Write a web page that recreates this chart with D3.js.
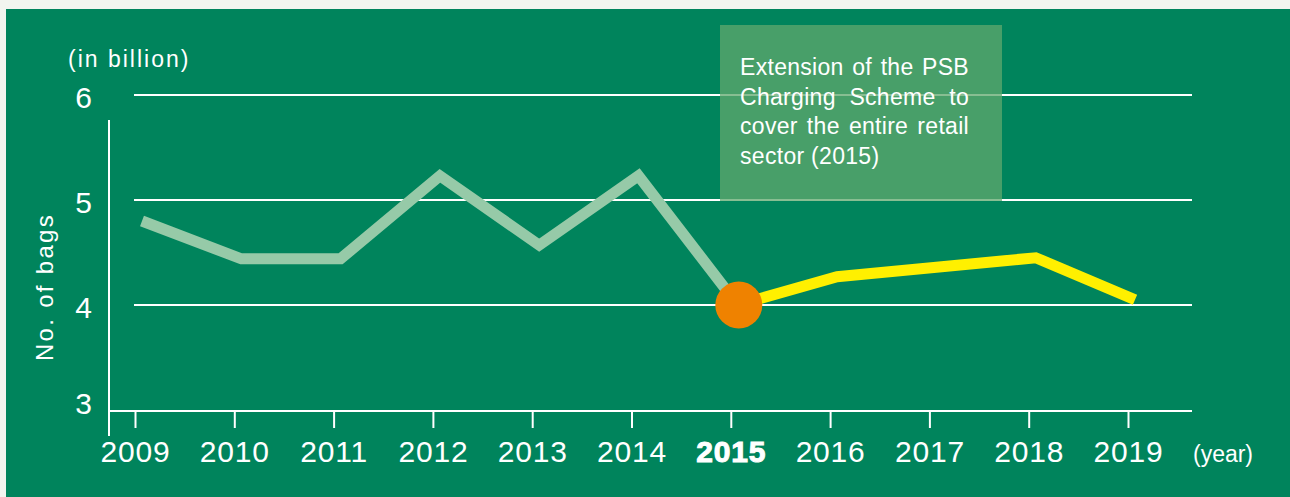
<!DOCTYPE html>
<html>
<head>
<meta charset="utf-8">
<script src="https://cdn.jsdelivr.net/npm/d3@7"></script>
<style>
  html, body { margin: 0; padding: 0; background: #f2f5ef; }
  svg { display: block; }
</style>
</head>
<body>
<svg id="chart" width="1290" height="497"></svg>
<script>
const years = [2009, 2010, 2011, 2012, 2013, 2014, 2015, 2016, 2017, 2018, 2019];
const bags = [4.8, 4.44, 4.44, 5.23, 4.57, 5.23, 4.0, 4.27, 4.36, 4.45, 4.05];
const yTicks = [3, 4, 5, 6];
const highlightYear = 2015;
const noteLines = [
  'Extension of the PSB',
  'Charging Scheme to',
  'cover the entire retail',
  'sector (2015)'
];

const BG = '#00845c';
const FONT = '"Liberation Sans", Arial, sans-serif';
const LINE_OFFSET = 7; // the line sits a little right of the ticks in the original

const svg = d3.select('#chart');

svg.append('rect')
  .attr('x', 6).attr('y', 9)
  .attr('width', 1284).attr('height', 488)
  .attr('fill', BG);

const x = d3.scalePoint()
  .domain(years)
  .range([135, 1128]);

const y = d3.scaleLinear()
  .domain([3, 6])
  .range([410, 95]);

// grid lines
svg.append('g')
  .selectAll('line')
  .data(yTicks.filter(d => d > 3))
  .join('line')
  .attr('x1', 134).attr('x2', 1192)
  .attr('y1', d => y(d)).attr('y2', d => y(d))
  .attr('stroke', '#fff').attr('stroke-width', 2);

// y tick labels
svg.append('g')
  .selectAll('text')
  .data(yTicks)
  .join('text')
  .attr('x', 92)
  .attr('y', d => y(d) + (d === 3 ? -7 : 2))
  .attr('text-anchor', 'end')
  .attr('dominant-baseline', 'central')
  .attr('font-family', FONT)
  .attr('font-size', 30)
  .attr('fill', '#fff')
  .text(d => d);

// y axis line
svg.append('line')
  .attr('x1', 109).attr('x2', 109)
  .attr('y1', 120).attr('y2', 436)
  .attr('stroke', '#fff').attr('stroke-width', 2);

// x axis
const xAxis = d3.axisBottom(x)
  .tickSizeInner(17)
  .tickSizeOuter(0)
  .tickPadding(13);

const axisG = svg.append('g')
  .attr('transform', `translate(0, ${y(3) + 1})`)
  .call(xAxis);

axisG.select('.domain')
  .attr('d', `M109,0H1192`)
  .attr('stroke', '#fff').attr('stroke-width', 2);
axisG.selectAll('.tick line').attr('stroke', '#fff').attr('stroke-width', 2);
axisG.selectAll('.tick text')
  .attr('fill', '#fff')
  .attr('font-family', FONT)
  .attr('font-size', 30)
  .attr('letter-spacing', '0.8px')
  .attr('font-weight', d => d === highlightYear ? 900 : 400)
  .attr('stroke', d => d === highlightYear ? '#fff' : null)
  .attr('stroke-width', d => d === highlightYear ? 1 : null);

svg.append('text')
  .attr('x', 1223).attr('y', 462)
  .attr('text-anchor', 'middle')
  .attr('font-family', FONT)
  .attr('font-size', 23)
  .attr('fill', '#fff')
  .text('(year)');

svg.append('text')
  .attr('x', 68).attr('y', 67)
  .attr('font-family', FONT)
  .attr('font-size', 23)
  .attr('letter-spacing', '2px')
  .attr('fill', '#fff')
  .text('(in billion)');

svg.append('text')
  .attr('transform', 'translate(53, 287) rotate(-90)')
  .attr('text-anchor', 'middle')
  .attr('font-family', FONT)
  .attr('font-size', 24)
  .attr('letter-spacing', '2.3px')
  .attr('fill', '#fff')
  .text('No. of bags');

// annotation box (drawn over grid lines, translucent)
const box = svg.append('g');
box.append('rect')
  .attr('x', 720).attr('y', 25)
  .attr('width', 282).attr('height', 176)
  .attr('fill', '#60a86d')
  .attr('opacity', 0.75);

const noteText = box.selectAll('text')
  .data(noteLines)
  .join('text')
  .attr('x', 740)
  .attr('y', (d, i) => 75 + i * 29.5)
  .attr('font-family', FONT)
  .attr('font-size', 23)
  .attr('letter-spacing', '0.3px')
  .attr('fill', '#fff')
  .text(d => d);

// justify all but the last line
const noteWidth = 229;
noteText.each(function (d, i) {
  if (i === noteLines.length - 1) return;
  const gaps = d.split(' ').length - 1;
  const w = this.getComputedTextLength();
  if (gaps > 0 && w < noteWidth) {
    d3.select(this).attr('word-spacing', ((noteWidth - w) / gaps) + 'px');
  }
});

// data lines
const pts = years.map((yr, i) => ({ yr, v: bags[i] }));
const line = d3.line()
  .x(d => x(d.yr) + LINE_OFFSET)
  .y(d => y(d.v));

svg.append('path')
  .datum(pts.filter(d => d.yr <= highlightYear))
  .attr('d', line)
  .attr('fill', 'none')
  .attr('stroke', '#96caa8')
  .attr('stroke-width', 11)
  .attr('stroke-linejoin', 'miter');

svg.append('path')
  .datum(pts.filter(d => d.yr >= highlightYear))
  .attr('d', line)
  .attr('fill', 'none')
  .attr('stroke', '#fff000')
  .attr('stroke-width', 11)
  .attr('stroke-linejoin', 'miter');

const hl = pts.find(d => d.yr === highlightYear);
svg.append('circle')
  .attr('cx', x(hl.yr) + LINE_OFFSET + 1)
  .attr('cy', y(hl.v))
  .attr('r', 23.5)
  .attr('fill', '#ef8200');
</script>
</body>
</html>
